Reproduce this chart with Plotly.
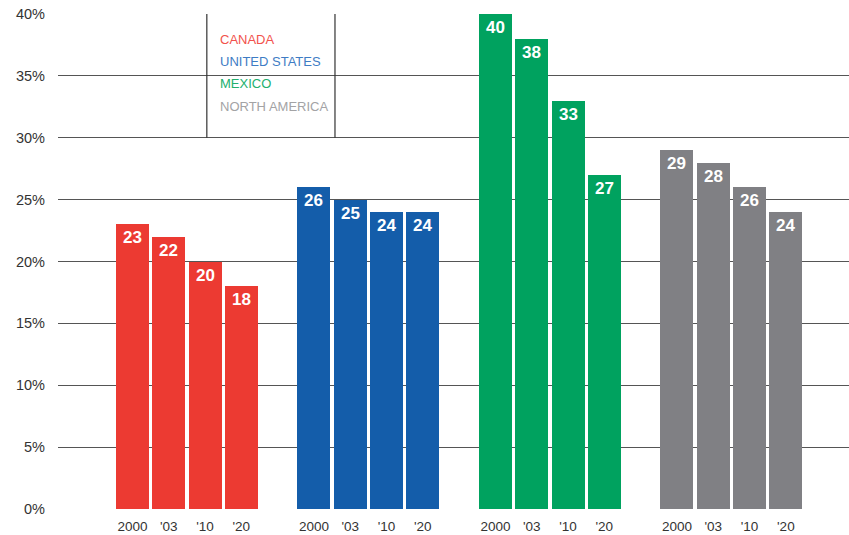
import plotly.graph_objects as go

countries = ["CANADA", "UNITED STATES", "MEXICO", "NORTH AMERICA"]
years = ["2000", "'03", "'10", "'20"]
canada = [23, 22, 20, 18]
united_states = [26, 25, 24, 24]
mexico = [40, 38, 33, 27]
north_america = [29, 28, 26, 24]
y_ticks = [0, 5, 10, 15, 20, 25, 30, 35, 40]

series = [canada, united_states, mexico, north_america]
bar_colors = ["#EC3A32", "#145DAA", "#00A25F", "#808084"]
legend_colors = ["#F2524C", "#3E7CC4", "#22B06E", "#A3A3A5"]

fig = go.Figure()
annotations = []
tickvals, ticktext = [], []
for g, (name, vals, col) in enumerate(zip(countries, series, bar_colors)):
    xs = [g * 5 + i for i in range(len(vals))]
    tickvals += xs
    ticktext += years
    fig.add_trace(go.Bar(
        x=xs, y=vals, name=name, marker=dict(color=col, line=dict(width=0)),
        width=0.91, showlegend=False, hoverinfo="y"))
    for x, v in zip(xs, vals):
        annotations.append(dict(
            x=x, y=v, text=f"<b>{v}</b>", showarrow=False, xref="x", yref="y",
            yanchor="top", yshift=-2,
            font=dict(family="Liberation Sans, Arial, sans-serif", size=17, color="white")))

# legend text
leg_y = [37.9, 36.2, 34.35, 32.5]
for name, col, yy in zip(countries, legend_colors, leg_y):
    annotations.append(dict(
        x=2.36, y=yy, text=name, showarrow=False, xref="x", yref="y",
        xanchor="left", yanchor="middle",
        font=dict(family="Liberation Sans, Arial, sans-serif", size=13, color=col)))

shapes = [
    dict(type="line", xref="x", yref="y", x0=2.05, x1=2.05, y0=30, y1=40,
         line=dict(color="#333333", width=1.2)),
    dict(type="line", xref="x", yref="y", x0=5.58, x1=5.58, y0=30, y1=40,
         line=dict(color="#333333", width=1.2)),
]

fig.update_layout(
    width=849, height=535,
    margin=dict(l=58, r=0, t=14, b=26),
    plot_bgcolor="white", paper_bgcolor="white",
    bargap=0,
    annotations=annotations,
    shapes=shapes,
    font=dict(family="Liberation Sans, Arial, sans-serif", color="#333333"),
    xaxis=dict(range=[-2.05, 19.74], tickvals=tickvals, ticktext=ticktext,
               showgrid=False, zeroline=False, showline=False, ticks="",
               tickfont=dict(size=13.5, color="#333333"), ticklabelstandoff=7,
               fixedrange=True),
    yaxis=dict(range=[0, 40], tickvals=y_ticks,
               ticktext=[f"{v}%" for v in y_ticks],
               showgrid=True, gridcolor="#555555", gridwidth=1,
               zeroline=False, showline=False, ticks="",
               tickfont=dict(size=14.5, color="#333333"), ticklabelstandoff=12,
               fixedrange=True),
)

fig.write_html("out.html")
